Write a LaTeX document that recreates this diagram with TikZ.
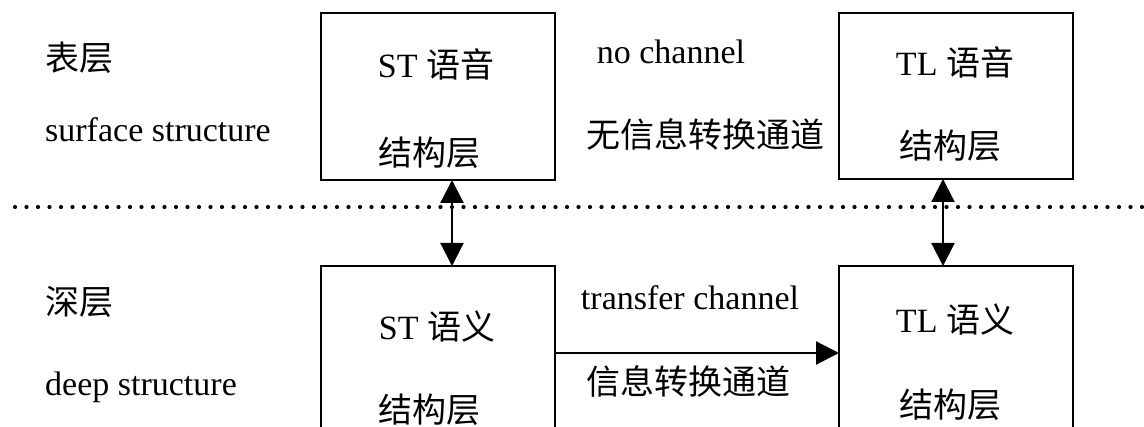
\documentclass[tikz,border=0pt]{standalone}
\usepackage{fontspec}
\setmainfont{Liberation Serif}
\newfontfamily\cjk{Noto Sans CJK SC}
\usetikzlibrary{arrows.meta}
\begin{document}
\begin{tikzpicture}[x=1pt,y=-1pt,
  box/.style={draw,line width=2.4pt,minimum width=234pt,anchor=north west,inner sep=0pt,outer sep=0pt},
  txt/.style={font=\fontsize{34}{40}\selectfont,inner sep=0pt,anchor=base},
  link/.style={line width=2.2pt,{Triangle[length=23pt,width=23pt]}-{Triangle[length=23pt,width=23pt]}},
  flow/.style={line width=2.2pt,-{Triangle[length=23pt,width=23pt]}},
  dots/.style={line width=4.2pt,line cap=round,dash pattern=on 0pt off 11.5pt}
  ]
\useasboundingbox (0,0) rectangle (1144,427);
\clip (0,0) rectangle (1144,427);
% boxes
\node[box,minimum height=167pt] (stTop) at (321,13) {};
\node[box,minimum height=166pt] (tlTop) at (839,13) {};
\node[box,minimum height=200pt] (stBot) at (321,266) {};
\node[box,minimum height=200pt] (tlBot) at (839,266) {};
% dotted separator
\coordinate (d0) at (15,207);
\coordinate (d1) at (1150,207);
\draw[dots] (d0) -- (d1);
% connectors
\coordinate (a1) at (452,207);
\coordinate (a2) at (943,207);
\coordinate (h) at (700,353);
\draw[link] (stTop.south -| a1) -- (stBot.north -| a1);
\draw[link] (tlTop.south -| a2) -- (tlBot.north -| a2);
\draw[flow] (stBot.east |- h) -- (tlBot.west |- h);
% left labels
\node[txt,anchor=base west] (l1) at (45,71) {\cjk 表层};
\node[txt,anchor=base west] (l2) at (45,142) {surface structure};
\node[txt,anchor=base west] (l3) at (45,315) {\cjk 深层};
\node[txt,anchor=base west] (l4) at (45,396) {deep structure};
% box texts
\node[txt] (t1) at (436,78) {ST {\cjk 语音}};
\node[txt] (t2) at (429,166) {\cjk 结构层};
\node[txt] (t3) at (955,76) {TL {\cjk 语音}};
\node[txt] (t4) at (950,159) {\cjk 结构层};
\node[txt] (t5) at (437,340) {ST {\cjk 语义}};
\node[txt] (t6) at (429,423) {\cjk 结构层};
\node[txt] (t7) at (955,333) {TL {\cjk 语义}};
\node[txt] (t8) at (950,418) {\cjk 结构层};
% channel labels
\node[txt] (c1) at (671,64) {no channel};
\node[txt] (c2) at (705,148) {\cjk 无信息转换通道};
\node[txt] (c3) at (690,310) {transfer channel};
\node[txt] (c4) at (688,395) {\cjk 信息转换通道};
\end{tikzpicture}
\end{document}
